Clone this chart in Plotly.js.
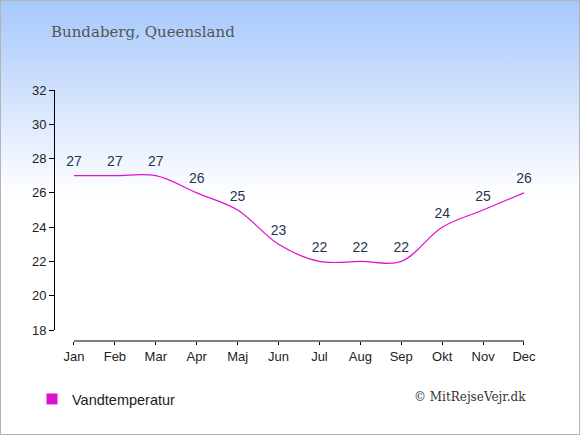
<!DOCTYPE html>
<html>
<head>
<meta charset="utf-8">
<script src="https://cdn.plot.ly/plotly-3.0.1.min.js"></script>
<style>
html,body{margin:0;padding:0;}
#wrap{width:580px;height:435px;box-sizing:border-box;border:1px solid #b4b4b4;
background:linear-gradient(to bottom,#a6c8fc 0px,#d9e6fd 110px,#ffffff 195px,#ffffff 435px);}
#chart{width:578px;height:433px;}
</style>
</head>
<body>
<div id="wrap"><div id="chart"></div></div>
<script>
const months = ["Jan","Feb","Mar","Apr","Maj","Jun","Jul","Aug","Sep","Okt","Nov","Dec"];
const waterTemp = [27,27,27,26,25,23,22,22,22,24,25,26];
const seriesName = "Vandtemperatur";
const chartTitle = "Bundaberg, Queensland";
const credit = "© MitRejseVejr.dk";
const yTicks = [18,20,22,24,26,28,30,32];

const idx = months.map((m,i)=>i);
const magenta = "#e010d0";

const traces = [
  {
    x: idx, y: waterTemp, mode: "lines+markers+text", type: "scatter",
    line: {color: magenta, width: 1.2, shape: "spline", smoothing: 1},
    marker: {size: 8, color: "rgba(0,0,0,0)"},
    text: waterTemp.map(String), textposition: "top center",
    textfont: {family: "Arial, Liberation Sans, sans-serif", size: 14, color: "#26354f"},
    showlegend: false, hoverinfo: "skip", cliponaxis: false
  },
  {
    x: [null], y: [null], mode: "markers", type: "scatter", name: seriesName,
    marker: {symbol: "square", size: 11, color: magenta}, showlegend: true
  }
];

const plotH = 251;
const layout = {
  width: 578, height: 433,
  margin: {l: 54, r: 35, t: 89, b: 93, autoexpand: false},
  paper_bgcolor: "rgba(0,0,0,0)", plot_bgcolor: "rgba(0,0,0,0)",
  title: {
    text: chartTitle, xref: "container", yref: "container",
    x: 50/578, xanchor: "left", y: 1 - 31/433, yanchor: "middle",
    font: {family: "DejaVu Serif, Georgia, serif", size: 15, color: "#555555"}
  },
  xaxis: {
    range: [-0.464, 11.489], tickvals: idx, ticktext: months,
    showgrid: false, zeroline: false, showline: false,
    ticks: "outside", ticklen: 3, tickcolor: "#000", tickwidth: 1,
    tickfont: {family: "Arial, Liberation Sans, sans-serif", size: 13, color: "#222"},
    anchor: "free", position: 0, fixedrange: true, automargin: false
  },
  yaxis: {
    range: [18, 32], tickvals: yTicks, domain: [11/plotH, 1],
    showgrid: false, zeroline: false, showline: true, linecolor: "#000", linewidth: 1,
    ticks: "outside", ticklen: 5, tickcolor: "#000",
    tickfont: {family: "Arial, Liberation Sans, sans-serif", size: 13, color: "#222"},
    fixedrange: true, automargin: false
  },
  shapes: [
    {type: "line", xref: "x", yref: "paper", x0: idx[0], x1: idx[idx.length-1], y0: 0, y1: 0,
     line: {color: "#000", width: 1}}
  ],
  showlegend: true,
  legend: {
    xref: "container", yref: "container", x: 31/578, xanchor: "left",
    y: 1 - 398/433, yanchor: "middle", bgcolor: "rgba(0,0,0,0)",
    font: {family: "Arial, Liberation Sans, sans-serif", size: 14.5, color: "#222"},
    itemwidth: 30
  },
  annotations: [
    {text: credit, xref: "paper", yref: "paper", x: (527-54)/489, xanchor: "right",
     y: (341-397)/plotH, yanchor: "middle", showarrow: false,
     font: {family: "DejaVu Serif, Georgia, serif", size: 12, color: "#333"}}
  ]
};

Plotly.newPlot("chart", traces, layout, {displayModeBar: false, staticPlot: true});
</script>
</body>
</html>
